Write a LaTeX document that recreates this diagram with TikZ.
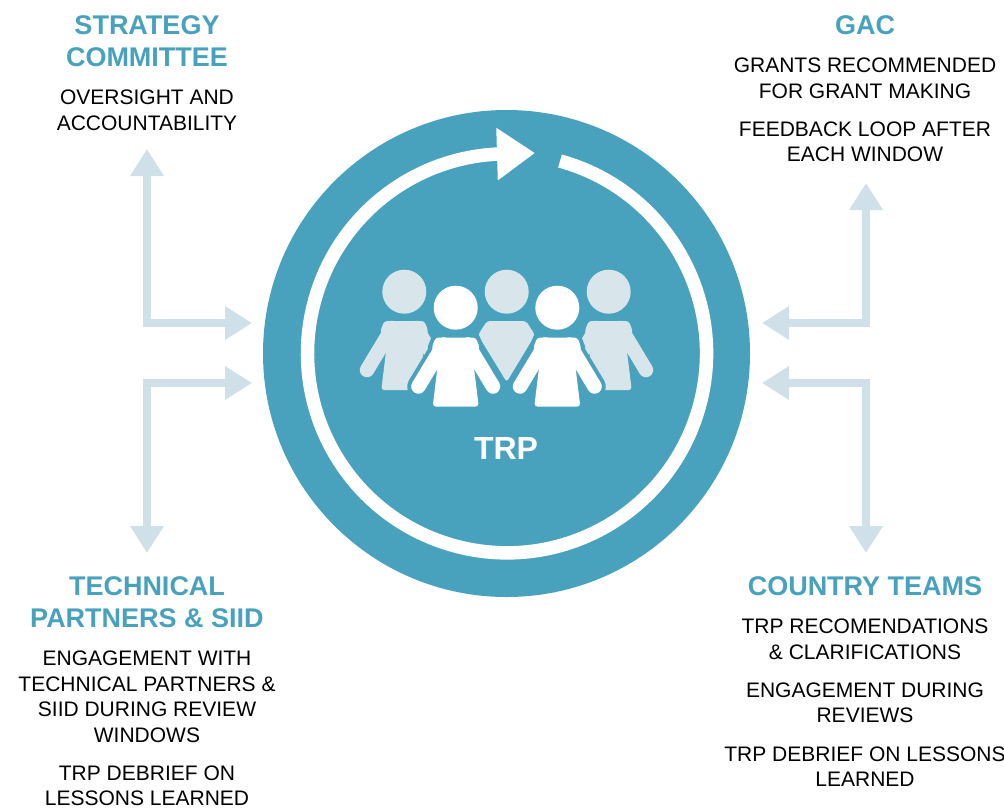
\documentclass[tikz,border=0pt]{standalone}
\usepackage{fontspec}
\setmainfont{Liberation Sans}
\usetikzlibrary{arrows.meta,positioning}
\definecolor{trpteal}{HTML}{48A2BD}
\definecolor{linkblue}{HTML}{D0E0E8}
\definecolor{paleblue}{HTML}{D8E5EA}
\tikzstyle{link}=[line width=8pt,draw=linkblue,{Triangle[length=27pt,width=32pt]}-{Triangle[length=27pt,width=32pt]}]
\tikzstyle{cycle}=[line width=13.5pt,draw=white,-{Triangle[length=38pt,width=50pt]}]
\tikzstyle{head}=[align=center,font=\fontsize{27}{32}\selectfont\bfseries,text=trpteal,inner sep=0pt]
\tikzstyle{body}=[align=center,font=\fontsize{21}{25.5}\selectfont,text=black,inner sep=0pt]
% one figure of the group, x and y give the top of the torso
\newcommand{\person}[3]{
  \begin{scope}[shift={(#1,#2)}]
    \draw[#3,line width=14.5pt,line cap=round] (-12,7) -- (-37.3,49);
    \draw[#3,line width=14.5pt,line cap=round] (12,7) -- (37.3,49);
    \fill[#3,rounded corners=3pt] (-20,0) -- (20,0) -- (24,10) -- (18,28) -- (23,69) -- (-23,69) -- (-18,28) -- (-24,10) -- cycle;
  \end{scope}
}
% dark edge round a figure, so that it stands off the ones behind
\newcommand{\personedge}[2]{
  \begin{scope}[shift={(#1,#2)}]
    \draw[trpteal,line width=22.5pt,line cap=round] (-12,7) -- (-37.3,49);
    \draw[trpteal,line width=22.5pt,line cap=round] (12,7) -- (37.3,49);
    \draw[trpteal,line width=8pt,line join=round] (-20,0) -- (20,0) -- (24,10) -- (18,28) -- (23,69) -- (-23,69) -- (-18,28) -- (-24,10) -- cycle;
  \end{scope}
}
\begin{document}
\begin{tikzpicture}[x=1pt,y=-1pt]
    \useasboundingbox (0,0) rectangle (1004,809);
    \node (disc) [circle,fill=trpteal,minimum size=487pt,inner sep=0pt] at (506.5,353.5) {};
    \node (trp) at (506,448) [inner sep=0pt,text=white,font=\fontsize{32}{36}\selectfont\bfseries] {TRP};

    \coordinate (tip) at (535,153);
    \draw[cycle] (560,161) arc[start angle=74.6,end angle=-267.1,radius=199.5pt] -- (tip);

    % group of people
    \person{404.3}{321}{paleblue}
    \person{608.7}{321}{paleblue}
    \fill[paleblue,rounded corners=3pt] (487,321) -- (526,321) -- (535,335) -- (506.7,382) -- (478,335) -- cycle;
    \fill[paleblue] (404.3,291.7) circle (22);
    \fill[paleblue] (506.7,291.7) circle (22);
    \fill[paleblue] (608.7,291.7) circle (22);
    \personedge{455.7}{337.5}
    \personedge{557.3}{337.5}
    \person{455.7}{337.5}{white}
    \person{557.3}{337.5}{white}
    \fill[white] (455.7,307.7) circle (22);
    \fill[white] (557.3,307.7) circle (22);

    % headings and texts
    \node (sc) at (147,41) [head] {STRATEGY\\COMMITTEE};
    \node (sctext) [body,below=23pt of sc] {OVERSIGHT AND\\ACCOUNTABILITY};
    \node (gac) at (865,25) [head] {GAC};
    \node (gactext) [body,below=23pt of gac] {GRANTS RECOMMENDED\\FOR GRANT MAKING};
    \node (gacloop) [body,below=23pt of gactext] {FEEDBACK LOOP AFTER\\EACH WINDOW};
    \node (tp) at (147,602) [head] {TECHNICAL\\PARTNERS \& SIID};
    \node (tptext) [body,below=23pt of tp] {ENGAGEMENT WITH\\TECHNICAL PARTNERS \&\\SIID DURING REVIEW\\WINDOWS};
    \node (tpdebrief) [body,below=23pt of tptext] {TRP DEBRIEF ON\\LESSONS LEARNED};
    \node (ct) at (865,586) [head] {COUNTRY TEAMS};
    \node (cttext) [body,below=23pt of ct] {TRP RECOMENDATIONS\\\& CLARIFICATIONS};
    \node (ctreview) [body,below=23pt of cttext] {ENGAGEMENT DURING\\REVIEWS};
    \node (ctdebrief) [body,below=23pt of ctreview] {TRP DEBRIEF ON LESSONS\\LEARNED};

    % links to the four groups
    \coordinate (scend) at (147,149);
    \coordinate (sccorner) at (147,323);
    \coordinate (scdisc) at (252,323);
    \coordinate (tpend) at (147,553);
    \coordinate (tpcorner) at (147,383);
    \coordinate (tpdisc) at (252,383);
    \coordinate (gacend) at (866,183);
    \coordinate (gaccorner) at (866,323);
    \coordinate (gacdisc) at (762,323);
    \coordinate (ctend) at (866,553);
    \coordinate (ctcorner) at (866,383);
    \coordinate (ctdisc) at (762,383);
    \draw[link] (scend) -- (sccorner) -- (scdisc);
    \draw[link] (tpend) -- (tpcorner) -- (tpdisc);
    \draw[link] (gacend) -- (gaccorner) -- (gacdisc);
    \draw[link] (ctend) -- (ctcorner) -- (ctdisc);
\end{tikzpicture}
\end{document}
